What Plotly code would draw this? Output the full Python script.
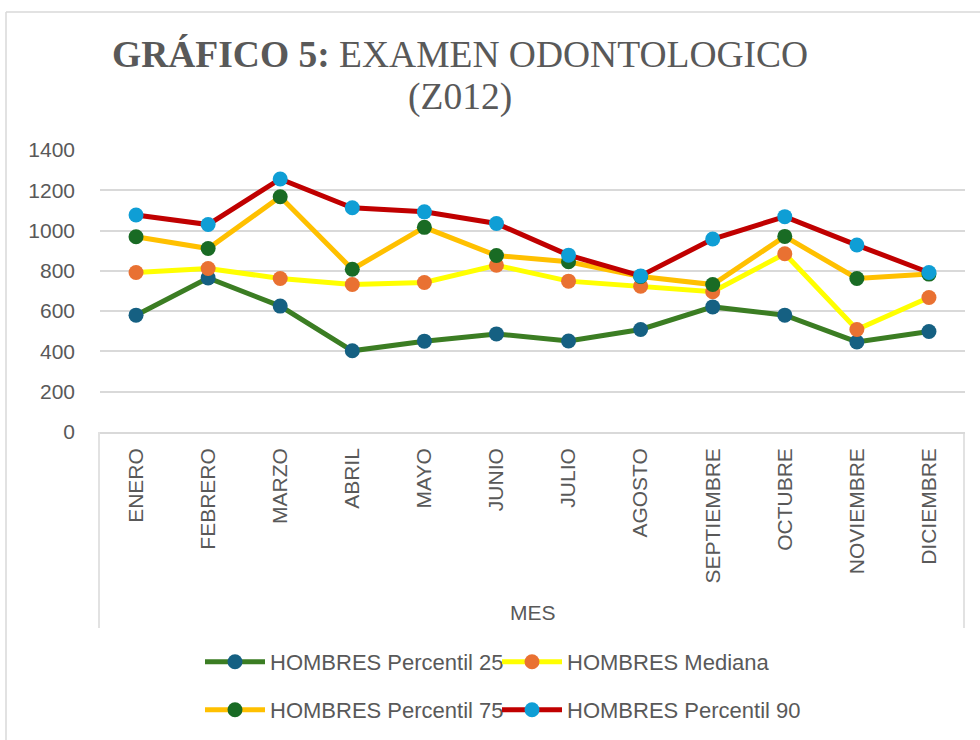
import plotly.graph_objects as go

meses = ["ENERO", "FEBRERO", "MARZO", "ABRIL", "MAYO", "JUNIO", "JULIO",
         "AGOSTO", "SEPTIEMBRE", "OCTUBRE", "NOVIEMBRE", "DICIEMBRE"]
p25 = [580, 765, 625, 403, 451, 487, 452, 509, 621, 580, 447, 499]
mediana = [792, 812, 762, 732, 742, 828, 749, 724, 696, 885, 509, 668]
p75 = [969, 911, 1168, 808, 1016, 876, 845, 772, 732, 971, 762, 784]
p90 = [1077, 1030, 1256, 1113, 1093, 1035, 878, 775, 958, 1069, 928, 792]

names = ["HOMBRES Percentil 25", "HOMBRES Mediana", "HOMBRES Percentil 75", "HOMBRES Percentil 90"]
series = [p25, mediana, p75, p90]
line_colors = ["#3b7d23", "#ffff00", "#ffc000", "#c00000"]
marker_colors = ["#156082", "#e97132", "#196b24", "#0f9ed5"]
legends = ["legend", "legend2", "legend3", "legend4"]

W, H = 980, 740
L, R, T, B = 100, 15, 150, 308
PW = W - L - R
PH = H - T - B

def px_x(x):
    return (x - L) / PW

def px_y(y):
    return (H - B - y) / PH

TXT = "#595959"
FONT = "Liberation Sans, Arial, sans-serif"

fig = go.Figure()
for name, vals, lc, mc, lg in zip(names, series, line_colors, marker_colors, legends):
    fig.add_trace(go.Scatter(
        x=meses, y=vals, name=name, mode="lines+markers",
        line=dict(color=lc, width=5),
        marker=dict(color=mc, size=15),
        legend=lg,
    ))

leg_common = dict(orientation="h", xanchor="left", yanchor="middle",
                  itemwidth=60,
                  font=dict(size=22, color=TXT, family=FONT), bgcolor="rgba(0,0,0,0)")
leg_pos = [(200, 662), (497, 662), (200, 710), (497, 710)]

fig.update_layout(
    width=W, height=H,
    margin=dict(l=L, r=R, t=T, b=B, autoexpand=False),
    paper_bgcolor="white", plot_bgcolor="white",
    font=dict(family=FONT, color=TXT, size=21),
    showlegend=True,
    legend=dict(x=px_x(leg_pos[0][0]), y=px_y(leg_pos[0][1]), **leg_common),
    legend2=dict(x=px_x(leg_pos[1][0]), y=px_y(leg_pos[1][1]), **leg_common),
    legend3=dict(x=px_x(leg_pos[2][0]), y=px_y(leg_pos[2][1]), **leg_common),
    legend4=dict(x=px_x(leg_pos[3][0]), y=px_y(leg_pos[3][1]), **leg_common),
    xaxis=dict(
        type="category", tickangle=-90, showgrid=False,
        showline=True, linecolor="#d9d9d9", linewidth=1.5,
        ticks="", ticklabelstandoff=6,
        tickfont=dict(size=21, color=TXT, family=FONT),
        range=[-0.5, 11.5],
    ),
    yaxis=dict(
        range=[0, 1400], dtick=200, showgrid=True, gridcolor="#d9d9d9", gridwidth=1.5,
        zeroline=False, showline=False, ticks="", ticklabelstandoff=24,
        tickfont=dict(size=21, color=TXT, family=FONT),
    ),
)

# Axis title
fig.add_annotation(
    text="MES", xref="paper", yref="paper", x=0.5, y=px_y(612),
    xanchor="center", yanchor="middle", showarrow=False,
    font=dict(size=21, color=TXT, family=FONT),
)

# Title
TFONT = "Liberation Serif, Times New Roman, serif"
fig.add_annotation(
    text="<b>GRÁFICO 5:</b> EXAMEN ODONTOLOGICO", xref="paper", yref="paper",
    x=px_x(460), y=px_y(55), xanchor="center", yanchor="middle", showarrow=False,
    font=dict(family=TFONT, size=37.5, color=TXT),
)
fig.add_annotation(
    text="(Z012)", xref="paper", yref="paper",
    x=px_x(460), y=px_y(97), xanchor="center", yanchor="middle", showarrow=False,
    font=dict(family=TFONT, size=37.5, color=TXT),
)

# Chart area border (partially visible) and category axis side lines
border = "#d9d9d9"
fig.add_shape(type="line", xref="paper", yref="paper",
              x0=px_x(6), x1=px_x(6), y0=px_y(12), y1=px_y(745),
              line=dict(color=border, width=1.5))
fig.add_shape(type="line", xref="paper", yref="paper",
              x0=px_x(6), x1=px_x(985), y0=px_y(12), y1=px_y(12),
              line=dict(color=border, width=1.5))
for xx in (99, 964):
    fig.add_shape(type="line", xref="paper", yref="paper",
                  x0=px_x(xx), x1=px_x(xx), y0=px_y(432), y1=px_y(628),
                  line=dict(color=border, width=1.5))

fig.write_html("out.html",
               config={"displayModeBar": False},
               post_script="document.body.style.margin='0px';document.body.style.overflow='hidden';")
